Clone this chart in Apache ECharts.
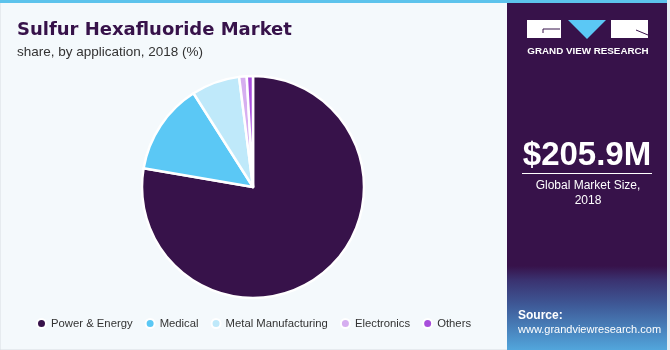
<!DOCTYPE html>
<html><head><meta charset="utf-8">
<script src="https://cdn.jsdelivr.net/npm/echarts@6/dist/echarts.min.js"></script>
<style>html,body{margin:0;padding:0;background:#f4f9fc}#c{width:670px;height:350px}</style>
</head><body><div id="c"></div>
<script>
var categories = ['Power & Energy', 'Medical', 'Metal Manufacturing', 'Electronics', 'Others'];
var shares = [77.7, 13.3, 7.0, 1.1, 0.9];
var colors = ['#37124a', '#5bc8f5', '#bfe9fa', '#d6aef0', '#a84fdc'];
var marketSize = '$205.9M';
var marketLabel = 'Global Market Size,\n2018';

var chart = echarts.init(document.getElementById('c'), null, {renderer: 'canvas'});
var F = 'Liberation Sans, Arial, sans-serif';
chart.setOption({
  backgroundColor: '#f4f9fc',
  animation: false,
  color: colors,
  title: [
    {text: 'Sulfur Hexafluoride Market', left: 12, top: 16,
     textStyle: {fontFamily: 'DejaVu Sans, sans-serif', fontSize: 18, fontWeight: 'bold', color: '#37124a'}},
    {text: 'share, by application, 2018 (%)', left: 12, top: 40,
     textStyle: {fontFamily: F, fontSize: 13.5, fontWeight: 'normal', color: '#333'}}
  ],
  legend: {
    data: categories, left: 31, top: 313, icon: 'circle', itemWidth: 9, itemHeight: 9, itemGap: 12,
    textStyle: {fontFamily: F, fontSize: 11.3, color: '#333'}
  },
  series: [{
    type: 'pie', center: [253, 187], radius: 111, startAngle: 90, clockwise: true,
    label: {show: false}, labelLine: {show: false}, silent: true,
    itemStyle: {borderColor: '#ffffff', borderWidth: 2.5},
    data: categories.map(function (c, i) { return {name: c, value: shares[i]}; })
  }],
  graphic: [
    {type: 'rect', shape: {x: 0, y: 0, width: 670, height: 350}, style: {fill: 'none', stroke: '#d8dde2', lineWidth: 1}, z: 0, silent: true},
    {type: 'rect', shape: {x: 507, y: 0, width: 160, height: 350},
     style: {fill: new echarts.graphic.LinearGradient(0, 0, 0, 1, [
       {offset: 0, color: '#37124a'}, {offset: 0.76, color: '#37124a'},
       {offset: 0.8, color: '#3a3270'}, {offset: 0.87, color: '#3e5896'}, {offset: 1, color: '#52a6dc'}])}, silent: true},
    {type: 'rect', shape: {x: 0, y: 0, width: 670, height: 3}, style: {fill: '#5cc3ec'}, silent: true},
    {type: 'rect', shape: {x: 667, y: 0, width: 3, height: 350}, style: {fill: '#e6eef3'}, silent: true},
    // logo
    {type: 'rect', shape: {x: 527, y: 20, width: 34, height: 18}, style: {fill: '#ffffff'}, silent: true},
    {type: 'polyline', shape: {points: [[543, 33], [543, 29], [560, 29]]}, style: {stroke: '#37124a', lineWidth: 1, fill: 'none'}, silent: true},
    {type: 'polygon', shape: {points: [[568, 20], [606, 20], [587, 39]]}, style: {fill: '#5bc8f5'}, silent: true},
    {type: 'rect', shape: {x: 611, y: 20, width: 37, height: 18}, style: {fill: '#ffffff'}, silent: true},
    {type: 'line', shape: {x1: 636, y1: 30, x2: 648, y2: 35}, style: {stroke: '#37124a', lineWidth: 1}, silent: true},
    {type: 'text', x: 588, y: 51, style: {text: 'GRAND VIEW RESEARCH', fill: '#ffffff', font: 'bold 9.8px ' + F, textAlign: 'center', textVerticalAlign: 'middle'}, silent: true},
    // market size
    {type: 'text', x: 587, y: 156, style: {text: marketSize, fill: '#ffffff', font: 'bold 33px ' + F, textAlign: 'center', textVerticalAlign: 'middle'}, silent: true},
    {type: 'line', shape: {x1: 522, y1: 173.5, x2: 652, y2: 173.5}, style: {stroke: '#ffffff', lineWidth: 1}, silent: true},
    {type: 'text', x: 588, y: 193.5, style: {text: marketLabel, fill: '#ffffff', font: '12px ' + F, textAlign: 'center', textVerticalAlign: 'middle', lineHeight: 15}, silent: true},
    // source
    {type: 'text', x: 518, y: 316, style: {text: 'Source:', fill: '#ffffff', font: 'bold 12px ' + F, textVerticalAlign: 'middle'}, silent: true},
    {type: 'text', x: 518, y: 330, style: {text: 'www.grandviewresearch.com', fill: '#ffffff', font: '11px ' + F, textVerticalAlign: 'middle'}, silent: true}
  ]
});
</script></body></html>
